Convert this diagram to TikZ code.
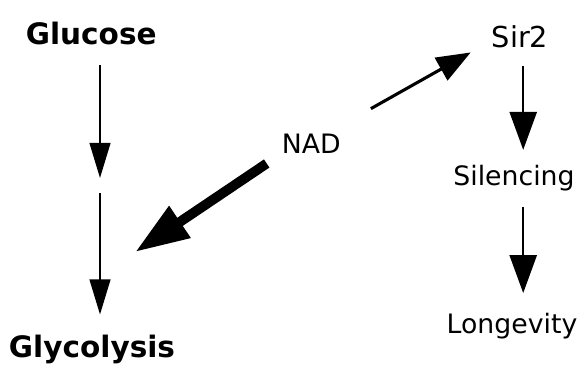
\documentclass[tikz,border=0pt]{standalone}
\usepackage{fontspec}
\setmainfont{DejaVu Sans}
\usetikzlibrary{arrows.meta, positioning}

\tikzset{
  term/.style={inner sep=0pt, anchor=base, font=\fontsize{19}{22}\selectfont},
  keyterm/.style={term, font=\fontsize{21}{25}\selectfont\bfseries},
  thinarrow/.style={line width=1.5pt, -{Triangle[length=0.88cm, width=0.52cm]}},
  widearrow/.style={thinarrow, -{Triangle[length=0.95cm, width=0.68cm]}},
  midarrow/.style={line width=2.2pt, -{Triangle[length=0.85cm, width=0.64cm]}},
  bigarrow/.style={line width=7pt, -{Triangle[length=1.35cm, width=0.9cm]}},
}

\begin{document}
\begin{tikzpicture}
    \useasboundingbox (0,0) rectangle (14.525,-9.275);

    % glycolysis branch
    \node[keyterm] (glucose) at (2.28,-1.12) {Glucose};
    \node[keyterm] (glycolysis) at (2.3,-8.93) {Glycolysis};
    \coordinate (split) at (2.5,-4.64);
    \coordinate (hit) at (3.38,-6.3);

    % sirtuin branch
    \node[term] (nad) at (7.78,-3.83) {NAD};
    \node[term, font=\fontsize{20.5}{24}\selectfont] (sir2) at (13.0,-1.18) {Sir2};
    \node[term] (silencing) at (12.85,-4.63) {Silencing};
    \node[term] (longevity) at (12.8,-8.33) {Longevity};
    \coordinate (rx) at (13.08,0);

    \draw[thinarrow, shorten <=0.5cm] (split |- glucose.south) -- ([yshift=0.19cm]split);
    \draw[thinarrow, shorten >=0.5cm] ([yshift=-0.19cm]split) -- (split |- glycolysis.north);
    \draw[bigarrow] ([shift={(-0.37,-0.25)}]nad.south west) -- (hit);
    \draw[midarrow] ([shift={(0.75,0.62)}]nad.north east) -- ([shift={(-0.52,-0.4)}]sir2.west);
    \draw[widearrow, shorten <=0.45cm, shorten >=0.37cm] (rx |- sir2.south) -- (rx |- silencing.north);
    \draw[widearrow, shorten <=0.41cm, shorten >=0.49cm] (rx |- silencing.south) -- (rx |- longevity.north);
  \end{tikzpicture}
\end{document}
